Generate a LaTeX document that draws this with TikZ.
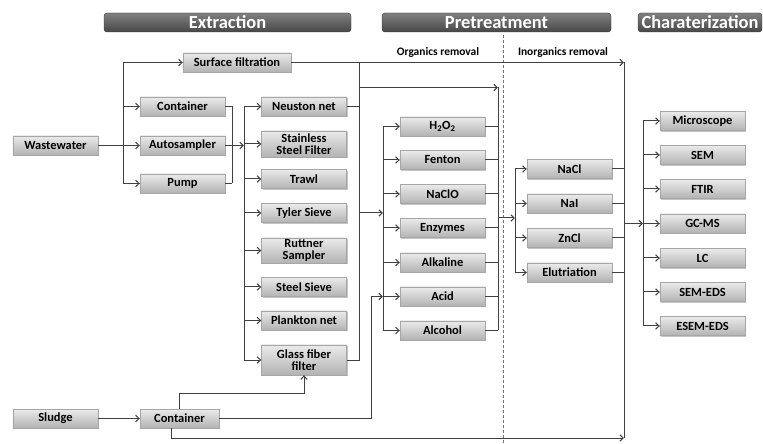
\documentclass[tikz,border=0pt]{standalone}
\usepackage{fontspec}
\setmainfont{Carlito}
\usetikzlibrary{arrows.meta,shadows}
\tikzset{
  stepbox/.style={draw=black!35, top color=black!8, bottom color=black!30,
    drop shadow={shadow xshift=1.3bp, shadow yshift=-1.3bp, fill=black!45},
    minimum width=85bp, minimum height=19bp, inner sep=1bp, align=center,
    font=\fontsize{12.5}{12}\selectfont\bfseries},
  headbar/.style={draw=black!80, rounded corners=3bp, top color=black!50, bottom color=black!72,
    minimum height=19bp, inner sep=0bp, text=white, font=\fontsize{18.5}{18}\selectfont\bfseries},
  subhead/.style={font=\fontsize{11.5}{11}\selectfont\bfseries},
  wire/.style={draw=black!75, line width=1bp},
  flow/.style={wire, -{Straight Barb[length=3.5bp, width=6.5bp]}}
}

\begin{document}
\begin{tikzpicture}[x=1bp, y=-1bp]
			%%%%% START %%%%%
			\useasboundingbox (0,0) rectangle (763,444);
			\fill[white] (0,0) rectangle (763,444);
			
			% phases
			\node[headbar, minimum width=247bp] (extr) at (227.5,22.5) {Extraction};
			\node[headbar, minimum width=229bp] (pret) at (496.5,22.5) {Pretreatment};
			\node[headbar, minimum width=124bp] (char) at (700,22.5) {Charaterization};
			\node[subhead] (orgrm) at (438,52) {Organics removal};
			\node[subhead] (inorgrm) at (563,52) {Inorganics removal};
			\draw[black!55, line width=1bp, dash pattern=on 3bp off 2bp] (503,35) -- (503,444);
			
			% extraction
			\node[stepbox] (ww) at (55.5,145.5) {Wastewater};
			\node[stepbox, minimum width=108bp] (sf) at (237,62.5) {Surface filtration};
			\node[stepbox] (cont) at (182.5,106.5) {Container};
			\node[stepbox] (auto) at (182.5,145.5) {Autosampler};
			\node[stepbox] (pump) at (182.5,183.5) {Pump};
			\node[stepbox] (nn) at (304,106.5) {Neuston net};
			\node[stepbox, minimum height=26bp] (ssf) at (304,144) {Stainless\\Steel Filter};
			\node[stepbox] (trawl) at (304,179) {Trawl};
			\node[stepbox] (tyler) at (304,213) {Tyler Sieve};
			\node[stepbox, minimum height=25bp] (ruttner) at (304,250.5) {Ruttner\\Sampler};
			\node[stepbox] (steel) at (304,287) {Steel Sieve};
			\node[stepbox] (plankton) at (304,320.5) {Plankton net};
			\node[stepbox, minimum height=30bp] (glass) at (304,360) {Glass fiber\\filter};
			\node[stepbox] (sludge) at (55.5,418.5) {Sludge};
			\node[stepbox, minimum width=79bp] (cont2) at (179.5,418.5) {Container};
			
			% pretreatment
			\node[stepbox] (h2o2) at (442.5,126.5) {H\textsubscript{2}O\textsubscript{2}};
			\node[stepbox] (fenton) at (442.5,160) {Fenton};
			\node[stepbox] (naclo) at (442.5,194) {NaClO};
			\node[stepbox] (enz) at (442.5,228) {Enzymes};
			\node[stepbox] (alk) at (442.5,262.5) {Alkaline};
			\node[stepbox] (acid) at (442.5,296.5) {Acid};
			\node[stepbox] (alc) at (442.5,330.5) {Alcohol};
			\node[stepbox] (nacl) at (569.5,169) {NaCl};
			\node[stepbox] (nai) at (569.5,203.5) {NaI};
			\node[stepbox] (zncl) at (569.5,238) {ZnCl};
			\node[stepbox] (elut) at (569.5,272.5) {Elutriation};
			
			% characterization
			\node[stepbox] (micro) at (702.5,121) {Microscope};
			\node[stepbox] (sem) at (702.5,155) {SEM};
			\node[stepbox] (ftir) at (702.5,189) {FTIR};
			\node[stepbox] (gcms) at (702.5,223.5) {GC-MS};
			\node[stepbox] (lc) at (702.5,258) {LC};
			\node[stepbox] (semeds) at (702.5,292) {SEM-EDS};
			\node[stepbox] (esemeds) at (702.5,326) {ESEM-EDS};
			
			% bus lines
			\coordinate (busA) at (123,0);
			\coordinate (busB) at (232,0);
			\coordinate (busC) at (244,0);
			\coordinate (busD) at (359,0);
			\coordinate (busE) at (383,0);
			\coordinate (busF) at (498,0);
			\coordinate (busG) at (515,0);
			\coordinate (busH) at (624,0);
			\coordinate (busI) at (643,0);
			\coordinate (busJ) at (371,0);
			\coordinate (lvlorg) at (0,87.5);
			\coordinate (lvlinorg) at (0,218);
			\coordinate (lvlbot) at (0,438);
			
			\draw[flow] (ww) -- (auto);
			\draw[wire] (busA |- sf) -- (busA |- pump);
			\foreach \n in {sf,cont,pump} \draw[flow] (busA |- \n) -- (\n);
			\foreach \n in {cont,auto,pump} \draw[wire] (\n) -- (busB |- \n);
			\draw[wire] (busB |- cont) -- (busB |- pump);
			\draw[flow] (busB |- auto) -- (busC |- auto);
			\draw[wire] (busC |- nn) -- (busC |- glass);
			\foreach \n in {nn,ssf,trawl,tyler,ruttner,steel,plankton,glass} \draw[flow] (busC |- \n) -- (\n);
			
			\draw[wire] (sf) -- (busD |- sf) -- (busD |- glass) -- (glass);
			\draw[wire] (nn) -- (busD |- nn);
			\draw[flow] (busD |- sf) -- (busH |- sf);
			\draw[flow] (busD |- lvlorg) -- (busF |- lvlorg);
			\draw[flow] (busD |- tyler) -- (busE |- tyler);
			
			\draw[wire] (busE |- h2o2) -- (busE |- alc);
			\foreach \n in {h2o2,fenton,naclo,enz,alk,acid,alc} {
				\draw[flow] (busE |- \n) -- (\n);
				\draw[wire] (\n) -- (busF |- \n);
			}
			\draw[wire] (busF |- lvlorg) -- (busF |- alc);
			\draw[flow] (busF |- lvlinorg) -- (busG |- lvlinorg);
			
			\draw[wire] (busG |- nacl) -- (busG |- elut);
			\foreach \n in {nacl,nai,zncl,elut} {
				\draw[flow] (busG |- \n) -- (\n);
				\draw[wire] (\n) -- (busH |- \n);
			}
			\draw[wire] (busH |- sf) -- (busH |- lvlbot);
			\draw[flow] (busH |- gcms) -- (busI |- gcms);
			\draw[wire] (busI |- micro) -- (busI |- esemeds);
			\foreach \n in {micro,sem,ftir,gcms,lc,semeds,esemeds} \draw[flow] (busI |- \n) -- (\n);
			
			\draw[flow] (sludge) -- (cont2);
			\draw[flow] (cont2.north) -- ++(0,-15) -| (glass.south);
			\draw[flow] (cont2) -| (busJ |- acid) -- (busE |- acid);
			\draw[flow] ([xshift=-8.5bp]cont2.south) |- (busH |- lvlbot);
			
			%%%%% END %%%%%
\end{tikzpicture}
\end{document}
